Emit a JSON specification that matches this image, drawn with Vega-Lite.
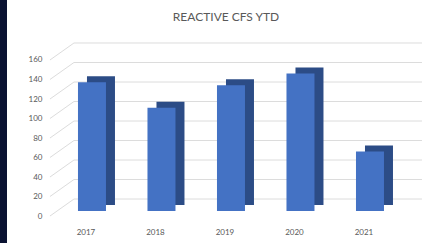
{
  "$schema": "https://vega.github.io/schema/vega-lite/v6.json",
  "width": 438,
  "height": 243,
  "autosize": "none",
  "padding": {"left": 7, "top": 0, "right": 0, "bottom": 0},
  "background": "#0a1232",
  "config": {
    "view": {"stroke": null, "fill": "white"},
    "font": "Lato",
    "axisY": {
      "title": null,
      "grid": false,
      "ticks": false,
      "domain": false,
      "offset": -35,
      "labelPadding": 0,
      "labelOffset": 5,
      "labelOverlap": false,
      "labelSeparation": 0,
      "labelFlush": false,
      "labelBound": false,
      "labelFont": "Lato",
      "labelFontSize": 8,
      "labelColor": "#595959"
    },
    "axisX": {
      "title": null,
      "offset": -18,
      "ticks": false,
      "domain": false,
      "labelAngle": 0,
      "labelPadding": 3,
      "labelOffset": -6,
      "labelFont": "Lato",
      "labelFontSize": 8,
      "labelColor": "#595959"
    }
  },
  "title": {
    "text": "REACTIVE CFS YTD",
    "font": "Lato",
    "fontSize": 12,
    "fontWeight": "normal",
    "color": "#595959",
    "anchor": "middle",
    "offset": -23.5
  },
  "datasets": {
    "bars": [
      {"year": "2017", "cfs": 132},
      {"year": "2018", "cfs": 106},
      {"year": "2019", "cfs": 129},
      {"year": "2020", "cfs": 141},
      {"year": "2021", "cfs": 61}
    ],
    "grid": [
      {"v": 0}, {"v": 20}, {"v": 40}, {"v": 60}, {"v": 80},
      {"v": 100}, {"v": 120}, {"v": 140}, {"v": 160}
    ]
  },
  "layer": [
    {
      "data": {"name": "grid"},
      "mark": {"type": "rule", "color": "#dcdcdc", "strokeWidth": 1, "xOffset": -18, "x2Offset": 52, "yOffset": -12},
      "encoding": {
        "x": {"datum": "2017", "type": "nominal", "title": null, "scale": {"domain": ["2017", "2018", "2019", "2020", "2021"], "paddingInner": 0, "paddingOuter": 0.651, "align": 0.555}},
        "x2": {"datum": "2021"},
        "y": {
          "field": "v",
          "type": "quantitative",
          "title": null,
          "scale": {"domain": [-32.8, 216.4], "nice": false, "zero": false},
          "axis": {"values": [0, 20, 40, 60, 80, 100, 120, 140, 160], "labelOverlap": false}
        }
      }
    },
    {
      "data": {"name": "grid"},
      "mark": {"type": "rule", "color": "#dcdcdc", "strokeWidth": 1, "xOffset": -42, "x2Offset": -18, "yOffset": 5, "y2Offset": -12},
      "encoding": {
        "x": {"datum": "2017", "type": "nominal", "title": null},
        "x2": {"datum": "2017"},
        "y": {"field": "v", "type": "quantitative", "title": null, "axis": {"values": [0, 20, 40, 60, 80, 100, 120, 140, 160], "labelOverlap": false}},
        "y2": {"field": "v"}
      }
    },
    {
      "data": {"name": "bars"},
      "mark": {"type": "bar", "size": 28, "color": "#2c4c86", "xOffset": 9, "yOffset": -6, "y2Offset": -6},
      "encoding": {
        "x": {"field": "year", "type": "nominal", "title": null},
        "y": {"field": "cfs", "type": "quantitative", "title": null, "axis": {"values": [0, 20, 40, 60, 80, 100, 120, 140, 160], "labelOverlap": false}}
      }
    },
    {
      "data": {"name": "bars"},
      "mark": {"type": "bar", "size": 28, "color": "#4472c4"},
      "encoding": {
        "x": {"field": "year", "type": "nominal", "title": null},
        "y": {"field": "cfs", "type": "quantitative", "title": null, "axis": {"values": [0, 20, 40, 60, 80, 100, 120, 140, 160], "labelOverlap": false}}
      }
    }
  ]
}
